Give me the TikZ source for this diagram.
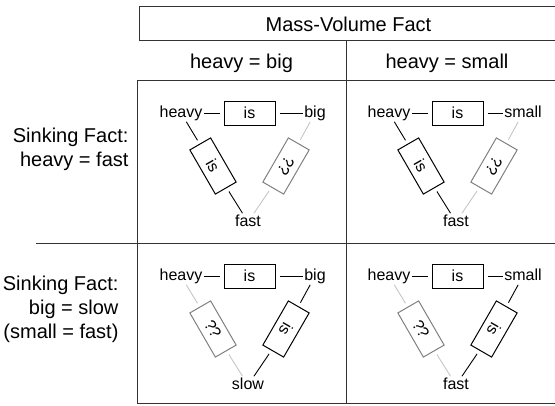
\documentclass[tikz,border=0pt]{standalone}
\usepackage{fontspec}
\setmainfont{Liberation Sans}
\begin{document}
\begin{tikzpicture}[x=1pt,y=-1pt,
  frame/.style={line width=1pt,black!80},
  big/.style={font=\fontsize{20}{24}\selectfont},
  word/.style={font=\fontsize{16}{19}\selectfont,inner sep=0pt,text height=12pt,text depth=3.5pt},
  rel/.style={draw,line width=1pt,font=\fontsize{16}{19}\selectfont,minimum width=51pt,minimum height=24pt,inner sep=0pt},
  unk/.style={rel,draw=gray},
  link/.style={line width=0.9pt,shorten <=4pt,shorten >=1pt},
  faint/.style={link,gray!45}]
  \useasboundingbox (0,0) rectangle (555,405);
  \draw[frame] (139,6) rectangle (562,40);
  \draw[frame] (562,80) -- (137,80) -- (137,403) -- (562,403);
  \draw[frame] (346,40) -- (346,403);
  \draw[frame] (36,243) -- (562,243);
  \node[big] (title) at (348.5,24) {Mass-Volume Fact};
  \node[big] (colA) at (241.5,63) {heavy = big};
  \node[big] (colB) at (447,63) {heavy = small};
  \node[big,align=right,anchor=east] (rowA) at (132,149) {Sinking Fact:\\heavy = fast};
  \node[big,align=right,anchor=east] (rowB) at (122,309) {Sinking Fact:\\big = slow\\(small = fast)};
  \foreach \i/\dx/\dy/\sw/\bw/\ls/\rs/\lt/\rt/\lk/\rk in {
      1/0/0/big/fast/rel/unk/is/??/link/faint,
      2/208/0/small/fast/rel/unk/is/??/link/faint,
      3/0/163/big/slow/unk/rel/??/is/faint/link,
      4/208/163/small/fast/unk/rel/??/is/faint/link}{
    \begin{scope}[shift={(\dx,\dy)}]
      \node[word] (heavy\i) at (181,113) {heavy};
      \node[word] (side\i) at (315,113) {\sw};
      \node[word] (bot\i) at (248,222) {\bw};
      \node[rel] (top\i) at (249.5,113) {is};
      \node[\ls,rotate=-60] (left\i) at (213,166) {\lt};
      \node[\rs,rotate=-120] (right\i) at (286,166) {\rt};
      \draw[link] (top\i) -- (heavy\i);
      \draw[link] (top\i) -- (side\i);
      \draw[\lk] (left\i) -- (heavy\i);
      \draw[\lk] (left\i) -- (bot\i);
      \draw[\rk] (right\i) -- (side\i);
      \draw[\rk] (right\i) -- (bot\i);
    \end{scope}
  }
\end{tikzpicture}
\end{document}
